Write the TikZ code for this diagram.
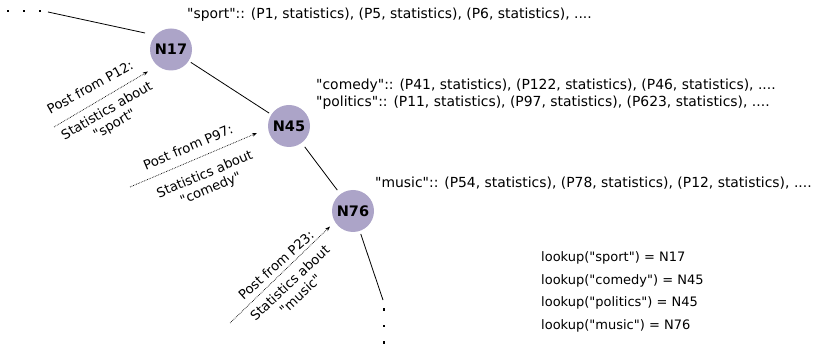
\documentclass[tikz,border=0pt]{standalone}
\usepackage{fontspec}
\newfontfamily\djv{DejaVu Sans}
\usetikzlibrary{arrows.meta}
\definecolor{nodefill}{RGB}{172,164,200}
\begin{document}
\begin{tikzpicture}[x=1pt,y=-1pt,
  treenode/.style={circle,fill=nodefill,minimum size=42pt,inner sep=0pt,font=\djv\fontsize{14.5}{17}\selectfont\bfseries},
  edge/.style={line width=0.8pt},
  post/.style={densely dotted,line width=0.7pt,-{Stealth[length=5pt,width=3.5pt]}},
  lbl/.style={font=\djv\fontsize{13.2}{15.5}\selectfont,align=center,inner sep=0pt},
  txt/.style={font=\djv\fontsize{13.9}{16}\selectfont,anchor=west,inner sep=0pt},
  lk/.style={font=\djv\fontsize{13}{15}\selectfont,anchor=west,inner sep=0pt},
  dot/.style={fill=black,inner sep=0pt,minimum size=2.2pt,rectangle}
]
\useasboundingbox (0,0) rectangle (816,344);
\node[treenode] (N17) at (171,49.5) {N17};
\node[treenode] (N45) at (289,126) {N45};
\node[treenode] (N76) at (353,211) {N76};

\node[dot] (d1) at (8,11) {};
\node[dot] (d2) at (24,11) {};
\node[dot] (d3) at (40,11) {};
\coordinate (t1) at (48,12);
\coordinate (t2) at (145,33);
\draw[edge] (t1) -- (t2);
\draw[edge,shorten <=2.5pt,shorten >=2.5pt] (N17) -- (N45);
\draw[edge,shorten <=5pt,shorten >=5pt] (N45) -- (N76);
\coordinate (b1) at (383,300);
\draw[edge,shorten <=3pt] (N76) -- (b1);
\node[dot] (e1) at (384,309.5) {};
\node[dot] (e2) at (384,326) {};
\node[dot] (e3) at (384,342.5) {};

\coordinate (p1s) at (54,127);
\coordinate (p1e) at (148,71.5);
\draw[post] (p1s) -- (p1e);
\node[lbl,rotate=29] (a1) at (90,87) {Post from P12:};
\node[lbl,rotate=30] (c1) at (111,118) {Statistics about\\"sport"};

\coordinate (p2s) at (130,187);
\coordinate (p2e) at (257,133);
\draw[post] (p2s) -- (p2e);
\node[lbl,rotate=23] (a2) at (188,147) {Post from P97:};
\node[lbl,rotate=23] (c2) at (208,182) {Statistics about\\"comedy"};

\coordinate (p3s) at (230,323);
\coordinate (p3e) at (330,226.5);
\draw[post] (p3s) -- (p3e);
\node[lbl,rotate=42] (a3) at (276,265) {Post from P23:};
\node[lbl,rotate=43] (c3) at (295,288.5) {Statistics about\\"music"};

\node[txt] (s1) at (187,15) {"sport":: (P1, statistics), (P5, statistics), (P6, statistics), ....};
\node[txt] (s2) at (316,86) {"comedy":: (P41, statistics), (P122, statistics), (P46, statistics), ....};
\node[txt] (s3) at (316,103) {"politics":: (P11, statistics), (P97, statistics), (P623, statistics), ....};
\node[txt] (s4) at (375,183) {"music":: (P54, statistics), (P78, statistics), (P12, statistics), ....};

\node[lk] (l1) at (541,258) {lookup("sport") = N17};
\node[lk] (l2) at (541,281) {lookup("comedy") = N45};
\node[lk] (l3) at (541,303) {lookup("politics") = N45};
\node[lk] (l4) at (541,326) {lookup("music") = N76};
\end{tikzpicture}
\end{document}
